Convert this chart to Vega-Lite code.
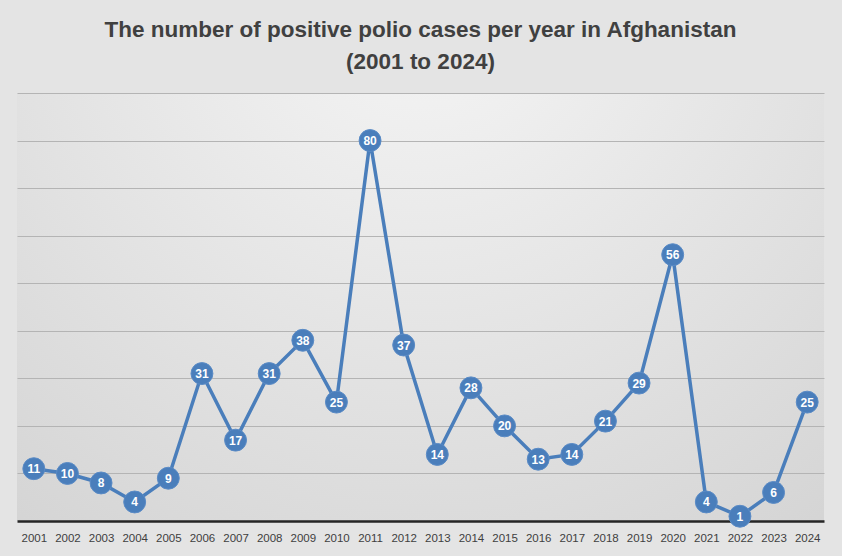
{
  "$schema": "https://vega.github.io/schema/vega-lite/v6.json",
  "autosize": {"type": "fit", "contains": "padding"},
  "width": 842,
  "height": 556,
  "padding": {"left": 17, "right": 18, "top": 18, "bottom": 12},
  "background": "#e4e4e4",
  "title": {
    "text": ["The number of positive polio cases per year in Afghanistan", "(2001 to 2024)"],
    "font": "Liberation Sans",
    "fontSize": 22.5,
    "fontWeight": "bold",
    "color": "#404040",
    "lineHeight": 32,
    "anchor": "middle",
    "offset": 20
  },
  "config": {
    "view": {
      "stroke": null,
      "fill": {
        "gradient": "radial",
        "x1": 0.5, "y1": 0.1, "x2": 0.5, "y2": 0.1,
        "r1": 0, "r2": 0.9,
        "stops": [
          {"offset": 0, "color": "#f6f6f6"},
          {"offset": 1, "color": "#d2d2d2"}
        ]
      }
    }
  },
  "data": {
    "values": [
      {"year": "2001", "cases": 11},
      {"year": "2002", "cases": 10},
      {"year": "2003", "cases": 8},
      {"year": "2004", "cases": 4},
      {"year": "2005", "cases": 9},
      {"year": "2006", "cases": 31},
      {"year": "2007", "cases": 17},
      {"year": "2008", "cases": 31},
      {"year": "2009", "cases": 38},
      {"year": "2010", "cases": 25},
      {"year": "2011", "cases": 80},
      {"year": "2012", "cases": 37},
      {"year": "2013", "cases": 14},
      {"year": "2014", "cases": 28},
      {"year": "2015", "cases": 20},
      {"year": "2016", "cases": 13},
      {"year": "2017", "cases": 14},
      {"year": "2018", "cases": 21},
      {"year": "2019", "cases": 29},
      {"year": "2020", "cases": 56},
      {"year": "2021", "cases": 4},
      {"year": "2022", "cases": 1},
      {"year": "2023", "cases": 6},
      {"year": "2024", "cases": 25}
    ]
  },
  "encoding": {
    "x": {
      "field": "year",
      "type": "ordinal",
      "scale": {"type": "point", "padding": 0.5},
      "axis": {
        "title": null,
        "labelAngle": 0,
        "labelFont": "Liberation Sans",
        "labelFontSize": 11.5,
        "labelColor": "#404040",
        "labelPadding": 11,
        "ticks": false,
        "domainColor": "#262626",
        "domainWidth": 2.5,
        "grid": false
      }
    },
    "y": {
      "field": "cases",
      "type": "quantitative",
      "scale": {"domain": [0, 90], "nice": false},
      "axis": {
        "title": null,
        "labels": false,
        "ticks": false,
        "domain": false,
        "values": [10, 20, 30, 40, 50, 60, 70, 80, 90],
        "gridColor": "#b4b4b4",
        "gridWidth": 1
      }
    }
  },
  "layer": [
    {
      "mark": {"type": "line", "color": "#4a7ebb", "strokeWidth": 3.5}
    },
    {
      "mark": {"type": "point", "filled": true, "shape": "circle", "size": 480, "color": "#4a7ebb", "opacity": 1, "stroke": "#5a8bc6", "strokeWidth": 1}
    },
    {
      "mark": {"type": "text", "color": "white", "font": "Liberation Sans", "fontWeight": "bold", "fontSize": 12, "baseline": "middle", "align": "center", "dy": 0.5},
      "encoding": {"text": {"field": "cases", "type": "quantitative"}}
    }
  ]
}
